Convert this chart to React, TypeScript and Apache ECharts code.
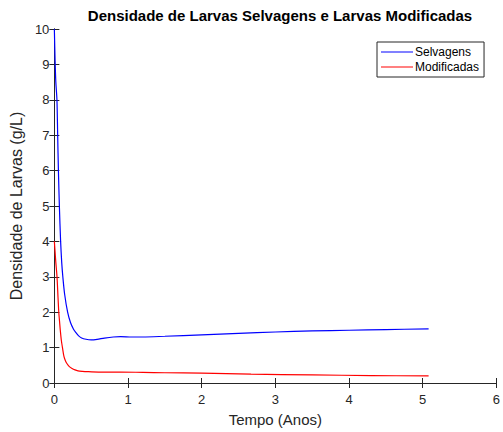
import React, { useEffect, useRef } from "react";
import * as echarts from "echarts";

const title = "Densidade de Larvas Selvagens e Larvas Modificadas";
const xName = "Tempo (Anos)";
const yName = "Densidade de Larvas (g/L)";
const seriesNames = ["Selvagens", "Modificadas"];
const seriesColors = ["#0000ff", "#ff0000"];

const tSelv = [0, 0.01, 0.02, 0.035, 0.045, 0.055, 0.068, 0.085, 0.1, 0.115, 0.14, 0.18, 0.22, 0.26, 0.29, 0.33, 0.37, 0.43, 0.5, 0.58, 0.68, 0.8, 0.9, 1.05, 1.2, 1.5, 2.0, 2.5, 3.0, 3.5, 4.0, 4.5, 5.08];
const vSelv = [10, 9.1, 8.5, 8.0, 7.0, 6.0, 5.0, 4.0, 3.4, 3.0, 2.5, 2.0, 1.7, 1.52, 1.43, 1.33, 1.27, 1.235, 1.22, 1.235, 1.27, 1.30, 1.31, 1.30, 1.30, 1.32, 1.36, 1.40, 1.44, 1.47, 1.49, 1.51, 1.53];

const tMod = [0, 0.01, 0.02, 0.036, 0.05, 0.06, 0.07, 0.08, 0.095, 0.11, 0.13, 0.15, 0.17, 0.2, 0.24, 0.28, 0.32, 0.38, 0.45, 0.6, 0.9, 1.2, 1.5, 2.0, 2.67, 3.5, 4.3, 5.08];
const vMod = [4, 3.7, 3.4, 3.0, 2.4, 2.0, 1.75, 1.5, 1.2, 1.0, 0.75, 0.63, 0.55, 0.47, 0.41, 0.37, 0.345, 0.33, 0.32, 0.31, 0.31, 0.30, 0.29, 0.28, 0.25, 0.23, 0.21, 0.2];

const xTicks = { min: 0, max: 6, interval: 1 };
const yTicks = { min: 0, max: 10, interval: 1 };

const axisColor = "#262626";
const font = "'Liberation Sans', Arial, Helvetica, sans-serif";

export default function App() {
  const ref = useRef<HTMLDivElement>(null);
  useEffect(() => {
    if (!ref.current) return;
    const chart = echarts.init(ref.current, undefined, { renderer: "svg" });
    const pair = (t: number[], v: number[]) => t.map((x, i) => [x, v[i]]);
    const axisBase = {
      axisLine: { show: true, lineStyle: { color: axisColor, width: 1 } },
      axisTick: { show: true, inside: true, length: 5, lineStyle: { color: axisColor } },
      splitLine: { show: false },
    };
    chart.setOption({
      animation: false,
      backgroundColor: "#ffffff",
      textStyle: { fontFamily: font },
      title: {
        text: title,
        left: 275,
        textAlign: "center",
        top: 3,
        textStyle: { fontSize: 15, fontWeight: "bold", color: "#000", fontFamily: font },
      },
      legend: {
        orient: "vertical",
        left: 377,
        top: 42,
        backgroundColor: "#fff",
        borderColor: axisColor,
        borderWidth: 1,
        borderRadius: 0,
        padding: [4, 5, 4, 4],
        itemGap: 3,
        itemWidth: 32,
        itemHeight: 13,
        textStyle: { fontSize: 12, color: "#000", fontFamily: font, padding: [0, 0, 0, -3] },
        data: seriesNames.map((n, i) => ({
          name: n,
          icon: "path://M0,5.5 L32,5.5 L32,6.5 L0,6.5 Z",
          itemStyle: { color: seriesColors[i] },
        })),
      },
      grid: { left: 50, right: 3, top: 29, bottom: 47, containLabel: false },
      xAxis: [
        {
          type: "value",
          position: "bottom",
          ...xTicks,
          name: xName,
          nameLocation: "middle",
          nameGap: 29,
          nameTextStyle: { fontSize: 15, color: axisColor, fontFamily: font },
          axisLabel: { fontSize: 13, color: axisColor, margin: 10, fontFamily: font },
          ...axisBase,
        },
        {
          type: "value",
          position: "top",
          ...xTicks,
          axisLabel: { show: false },
          ...axisBase,
        },
      ],
      yAxis: [
        {
          type: "value",
          position: "left",
          ...yTicks,
          name: yName,
          nameLocation: "middle",
          nameGap: 26,
          nameTextStyle: { fontSize: 16, color: axisColor, fontFamily: font },
          axisLabel: { fontSize: 13, color: axisColor, margin: 5, fontFamily: font },
          ...axisBase,
        },
        {
          type: "value",
          position: "right",
          ...yTicks,
          axisLabel: { show: false },
          ...axisBase,
        },
      ],
      series: [
        {
          name: seriesNames[0],
          type: "line",
          data: pair(tSelv, vSelv),
          symbol: "none",
          smooth: 0.3,
          lineStyle: { color: seriesColors[0], width: 1.2 },
          itemStyle: { color: seriesColors[0] },
        },
        {
          name: seriesNames[1],
          type: "line",
          data: pair(tMod, vMod),
          symbol: "none",
          smooth: 0.3,
          lineStyle: { color: seriesColors[1], width: 1.2 },
          itemStyle: { color: seriesColors[1] },
        },
      ],
    });
    return () => chart.dispose();
  }, []);
  return <div ref={ref} style={{ width: 503, height: 432, position: "absolute", left: 0, top: 0 }} />;
}
